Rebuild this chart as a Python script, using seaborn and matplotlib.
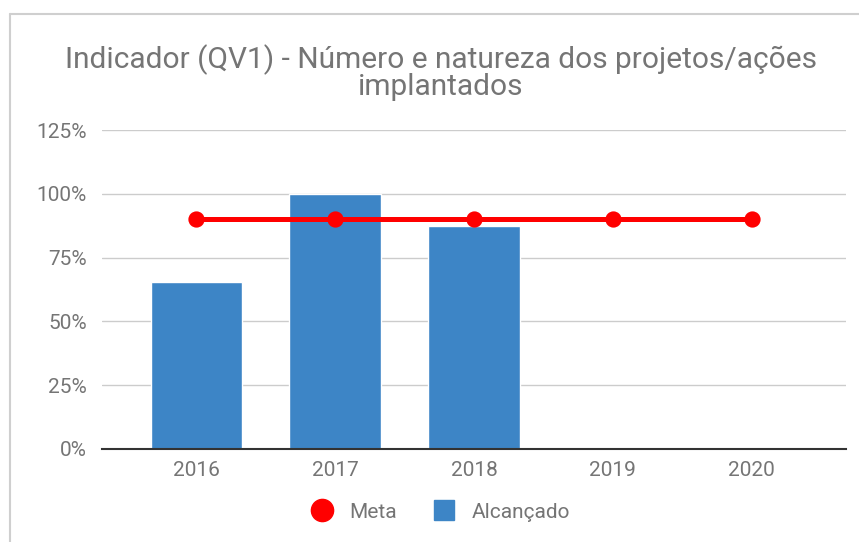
import numpy as np
import pandas as pd
import matplotlib
matplotlib.use("Agg")
import matplotlib.pyplot as plt
from matplotlib.lines import Line2D
import seaborn as sns

anos = ["2016", "2017", "2018", "2019", "2020"]
alcancado = [0.655, 1.00, 0.875, np.nan, np.nan]
meta = [0.90, 0.90, 0.90, 0.90, 0.90]
ticks_y = [0, 0.25, 0.50, 0.75, 1.00, 1.25]
tick_labels_y = ["0%", "25%", "50%", "75%", "100%", "125%"]
titulo = ["Indicador (QV1) - Número e natureza dos projetos/ações", "implantados"]

AZUL = "#3d85c6"
VERMELHO = "#ff0000"
CINZA = "#757575"

sns.set_theme(style="white")
plt.rcParams["font.family"] = ["Roboto", "DejaVu Sans"]

df = pd.DataFrame({"ano": anos, "alcancado": alcancado, "meta": meta})

fig = plt.figure(figsize=(8.59, 5.42), dpi=100)
ax = fig.add_axes([102 / 859, (542 - 449) / 542, (846 - 102) / 859, (449 - 130) / 542])

sns.barplot(data=df, x="ano", y="alcancado", order=anos, color=AZUL,
            saturation=1, width=0.66, ax=ax, zorder=2)
sns.pointplot(data=df, x="ano", y="meta", order=anos, color=VERMELHO,
              markers="o", markersize=9, linewidth=3.6, ax=ax, zorder=3)

ax.set_ylim(0, 1.25)
ax.set_xlim(-0.68, 4.68)
ax.set_yticks(ticks_y)
ax.set_yticklabels(tick_labels_y)
ax.yaxis.grid(True, color="#cccccc", linewidth=1, zorder=0)
ax.set_axisbelow(True)
ax.set_xlabel("")
ax.set_ylabel("")
for s in ["top", "right", "left"]:
    ax.spines[s].set_visible(False)
ax.spines["bottom"].set_color("#333333")
ax.spines["bottom"].set_linewidth(1.5)
ax.spines["bottom"].set_zorder(4)
ax.tick_params(axis="both", length=0, labelsize=15, colors=CINZA)
ax.tick_params(axis="x", pad=9)
ax.tick_params(axis="y", pad=11)

# titulo em duas linhas, baseline de cada uma tirada do print
fig.text(441 / 859, 1 - 68 / 542, titulo[0], ha="center", va="baseline",
         fontsize=21.5, color=CINZA)
fig.text(441 / 859, 1 - 95 / 542, titulo[1], ha="center", va="baseline",
         fontsize=21.5, color=CINZA)

handles = [
    Line2D([], [], marker="o", linestyle="none", markersize=16, color=VERMELHO),
    Line2D([], [], marker="s", linestyle="none", markersize=15, color=AZUL),
]
fig.legend(handles, ["Meta", "Alcançado"], loc="center", bbox_to_anchor=(0.507, 0.055),
           ncol=2, frameon=False, fontsize=15, labelcolor=CINZA, handletextpad=0.3,
           columnspacing=1.3)

# moldura cinza do print original
fig.add_artist(Line2D([10 / 859, 1], [1 - 14 / 542, 1 - 14 / 542], color="#cfcfcf", linewidth=1.5))
fig.add_artist(Line2D([10 / 859, 10 / 859], [0, 1 - 14 / 542], color="#cfcfcf", linewidth=1.5))

fig.savefig("out.png", dpi=100)
